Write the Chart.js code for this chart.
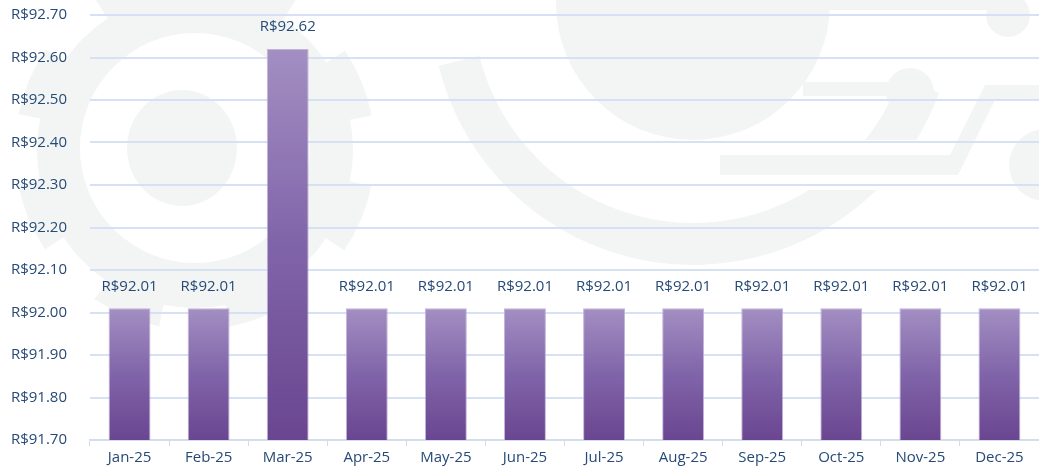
<!DOCTYPE html>
<html>
<head>
<meta charset="utf-8">
<script src="https://cdn.jsdelivr.net/npm/chart.js@4/dist/chart.umd.min.js"></script>
<style>
  html, body { margin: 0; padding: 0; background: #fff; }
  #wrap { width: 1039px; height: 470px; position: relative; }
</style>
</head>
<body>
<div id="wrap"><canvas id="priceChart"></canvas></div>
<script>
// monthly price series
const months = ["Jan-25", "Feb-25", "Mar-25", "Apr-25", "May-25", "Jun-25",
                "Jul-25", "Aug-25", "Sep-25", "Oct-25", "Nov-25", "Dec-25"];
const prices = [92.01, 92.01, 92.62, 92.01, 92.01, 92.01,
                92.01, 92.01, 92.01, 92.01, 92.01, 92.01];
const yMin = 91.7;
const yMax = 92.7;
const yStep = 0.1;

const textColor = "#264a77";
const fontSpec = { family: "'Open Sans', sans-serif", size: 15 };
const money = (v) => "R$" + Number(v).toFixed(2);

// faint logo behind the plot
const watermark = {
  id: "watermark",
  beforeDraw(chart) {
    const c = chart.ctx;
    const grey = "#f3f5f4";
    const circle = (x, y, r) => { c.beginPath(); c.arc(x, y, r, 0, Math.PI * 2); c.fill(); };
    c.save();
    c.fillStyle = grey;

    // gear on the left: toothed ring, white gap, solid hub
    c.beginPath();
    const teeth = 8;
    for (let i = 0; i < teeth * 2; i++) {
      const a0 = (i / (teeth * 2)) * Math.PI * 2 + 0.2;
      const a1 = ((i + 1) / (teeth * 2)) * Math.PI * 2 + 0.2;
      const r = i % 2 === 0 ? 180 : 158;
      c.arc(195, 150, r, a0, a1);
    }
    c.closePath();
    c.fill();
    c.fillStyle = "#ffffff";
    circle(195, 148, 115);
    c.fillStyle = grey;
    c.beginPath();
    c.ellipse(182, 148, 55, 58, 0, 0, Math.PI * 2);
    c.fill();

    // partial ring under the top disc
    c.beginPath();
    c.arc(693, 3, 262, 0.35, 2.9);
    c.arc(693, 3, 220, 2.9, 0.35, true);
    c.closePath();
    c.fill();
    circle(693, 3, 137);

    // circuit traces on the right
    c.fillStyle = "#ffffff";
    c.fillRect(700, 140, 339, 50);
    c.fillStyle = grey;
    c.fillRect(720, 155, 235, 20);
    c.beginPath();
    c.moveTo(940, 175);
    c.lineTo(985, 85);
    c.lineTo(1039, 85);
    c.lineTo(1039, 100);
    c.lineTo(995, 100);
    c.lineTo(958, 175);
    c.closePath();
    c.fill();
    c.fillRect(803, 82, 100, 14);
    circle(910, 92, 24);
    c.fillRect(830, 0, 180, 10);
    circle(1008, 15, 22);
    circle(1045, 165, 36);
    c.restore();
  }
};

// value labels above each bar
const barLabels = {
  id: "barLabels",
  afterDatasetsDraw(chart) {
    const c = chart.ctx;
    const meta = chart.getDatasetMeta(0);
    c.save();
    c.font = fontSpec.size + "px " + fontSpec.family;
    c.fillStyle = textColor;
    c.textAlign = "center";
    c.textBaseline = "middle";
    meta.data.forEach((bar, i) => {
      c.fillText(money(prices[i]), bar.x, bar.y - 22);
    });
    c.restore();
  }
};

function barFill(ctx) {
  const chart = ctx.chart;
  const area = chart.chartArea;
  if (!area || ctx.type !== "data") return "#8062a9";
  const top = chart.scales.y.getPixelForValue(prices[ctx.dataIndex]);
  const g = chart.ctx.createLinearGradient(0, top, 0, area.bottom);
  g.addColorStop(0, "#a38fc2");
  g.addColorStop(0.5, "#8064a9");
  g.addColorStop(1, "#6a4690");
  return g;
}

new Chart(document.getElementById("priceChart"), {
  type: "bar",
  data: {
    labels: months,
    datasets: [{
      data: prices,
      backgroundColor: barFill,
      borderColor: "rgba(190,172,215,0.9)",
      borderWidth: 1,
      barPercentage: 0.53,
      categoryPercentage: 1
    }]
  },
  options: {
    responsive: true,
    maintainAspectRatio: false,
    animation: false,
    layout: { padding: { left: 10, top: 15, right: 0, bottom: 0 } },
    plugins: {
      legend: { display: false },
      tooltip: { enabled: false }
    },
    scales: {
      x: {
        afterFit(scale) {
          scale.height = 30;
          scale.paddingLeft = 0;
          scale.paddingRight = 0;
        },
        grid: {
          offset: true,
          drawOnChartArea: false,
          drawTicks: true,
          tickLength: 6,
          color: "#d3dcea"
        },
        border: { display: true, color: "#d3dcea", width: 1.5 },
        ticks: { color: textColor, font: fontSpec, padding: 3, maxRotation: 0 }
      },
      y: {
        min: yMin,
        max: yMax,
        afterFit(scale) {
          scale.width = 80;
          scale.paddingTop = 0;
          scale.paddingBottom = 0;
        },
        grid: { color: "#d6e1f3", lineWidth: 2, drawTicks: false },
        border: { display: false },
        ticks: {
          stepSize: yStep,
          color: textColor,
          font: fontSpec,
          padding: 23,
          callback: (v) => money(v)
        }
      }
    }
  },
  plugins: [watermark, barLabels]
});
</script>
</body>
</html>
